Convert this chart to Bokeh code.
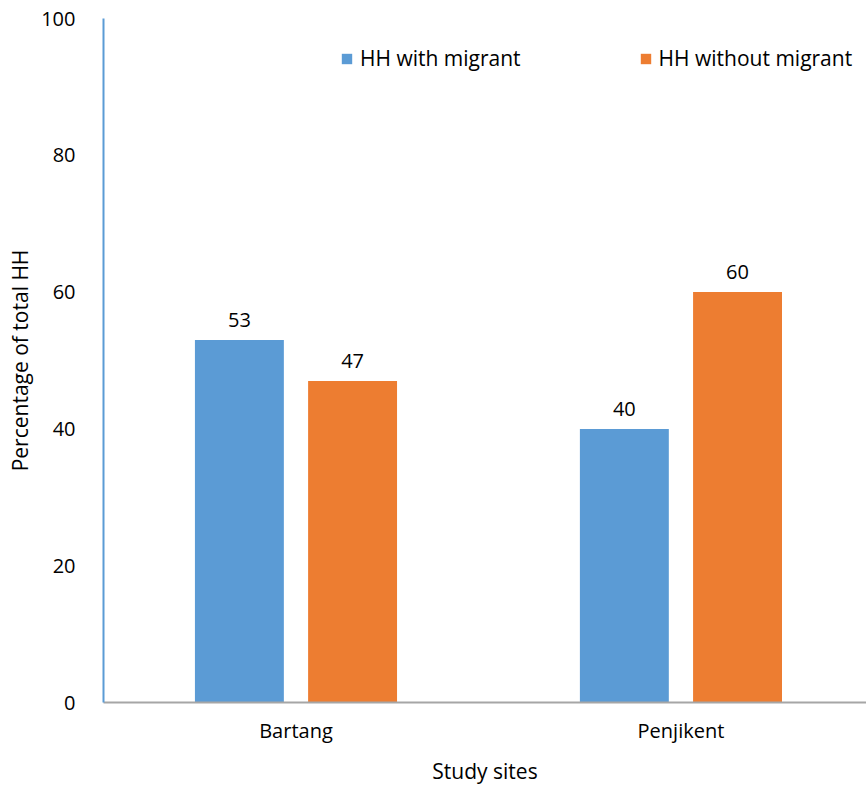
from bokeh.plotting import figure
from bokeh.models import ColumnDataSource, Range1d, Legend, LegendItem, LabelSet, FixedTicker
from bokeh.core.properties import value
from bokeh.embed import file_html
from bokeh.resources import INLINE

# Share of households by study site
sites = ["Bartang", "Penjikent"]
with_migrant = [53, 40]
without_migrant = [47, 60]
series_names = ["HH with migrant", "HH without migrant"]
y_ticks = [0, 20, 40, 60, 80, 100]

BLUE = "#5B9BD5"
ORANGE = "#ED7D31"
FONT = "Open Sans"

# category slots sit at 0.5, 1.5, ... on a numeric axis
centers = [i + 0.5 for i in range(len(sites))]
bw = 0.231
off = 0.147

src = ColumnDataSource(dict(
    xc=centers,
    x_with=[c - off for c in centers],
    x_without=[c + off for c in centers],
    with_m=with_migrant,
    without_m=without_migrant,
    with_lbl=[str(v) for v in with_migrant],
    without_lbl=[str(v) for v in without_migrant],
))

p = figure(
    width=866, height=787,
    x_range=Range1d(0, 1.982),
    y_range=Range1d(0, 100),
    output_backend="svg", toolbar_location=None,
    min_border_left=103, min_border_right=0,
    min_border_top=18, min_border_bottom=83,
)

r1 = p.vbar(x="x_with", top="with_m", width=bw, source=src,
            fill_color=BLUE, line_color=None)
r2 = p.vbar(x="x_without", top="without_m", width=bw, source=src,
            fill_color=ORANGE, line_color=None)

for xcol, col, lbl in (("x_with", "with_m", "with_lbl"), ("x_without", "without_m", "without_lbl")):
    p.add_layout(LabelSet(
        x=xcol, y=col, text=lbl, source=src,
        text_align="center", text_baseline="bottom", y_offset=13,
        text_font=value(FONT), text_font_size="20px", text_color="#000000",
    ))

legend = Legend(
    items=[LegendItem(label=series_names[0], renderers=[r1]),
           LegendItem(label=series_names[1], renderers=[r2])],
    orientation="horizontal", location=(237, 630),
    glyph_width=13, glyph_height=13, label_standoff=7, spacing=118,
    padding=0, margin=0, border_line_color=None, background_fill_alpha=0,
    label_text_font=FONT, label_text_font_size="21px", label_text_color="#000000",
)
p.add_layout(legend)

p.xgrid.visible = False
p.ygrid.visible = False
p.outline_line_color = None

p.yaxis.ticker = FixedTicker(ticks=y_ticks)
p.yaxis.axis_line_color = BLUE
p.yaxis.axis_line_width = 2
p.yaxis.major_tick_line_color = None
p.yaxis.minor_tick_line_color = None
p.yaxis.major_label_standoff = 22
p.yaxis.axis_label = "Percentage of total HH"
p.yaxis.axis_label_standoff = 4

p.xaxis.ticker = FixedTicker(ticks=centers)
p.xaxis.major_label_overrides = {c: s for c, s in zip(centers, sites)}
p.xaxis.axis_line_color = "#A6A6A6"
p.xaxis.axis_line_width = 2
p.xaxis.major_tick_line_color = None
p.xaxis.minor_tick_line_color = None
p.xaxis.major_label_standoff = 8
p.xaxis.axis_label = "Study sites"
p.xaxis.axis_label_standoff = 10

for ax in (p.xaxis, p.yaxis):
    ax.major_label_text_font = FONT
    ax.major_label_text_font_size = "20px"
    ax.major_label_text_color = "#000000"
    ax.axis_label_text_font = FONT
    ax.axis_label_text_font_size = "21px"
    ax.axis_label_text_font_style = "normal"
    ax.axis_label_text_color = "#000000"

open("out.html", "w").write(file_html(p, INLINE))
